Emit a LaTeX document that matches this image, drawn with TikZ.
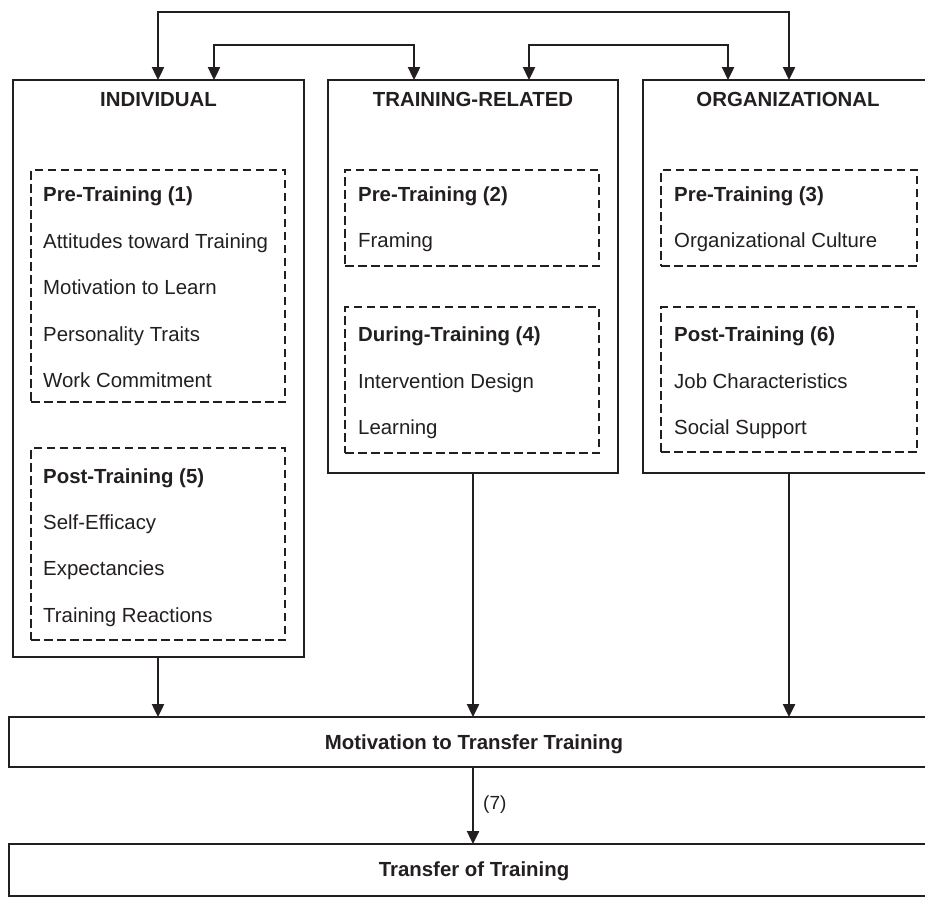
\documentclass[tikz,border=0pt]{standalone}
\usepackage{fontspec}
\setmainfont{Liberation Sans}
\usetikzlibrary{arrows.meta}
\definecolor{ink}{HTML}{231F20}
\begin{document}
\begin{tikzpicture}[x=1pt,y=-1pt,
 box/.style={draw=ink,line width=2pt,inner sep=0pt,outer sep=0pt,anchor=north west},
 dbox/.style={draw=ink,line width=2.5pt,dash pattern=on 8.5pt off 4.5pt,inner sep=0pt,outer sep=0pt,anchor=north west},
 hdr/.style={font=\fontsize{20.4}{24}\selectfont\bfseries,text=ink,anchor=base,inner sep=0pt},
 sub/.style={font=\fontsize{20.4}{24}\selectfont\bfseries,text=ink,anchor=base west,inner sep=0pt},
 item/.style={font=\fontsize{20.4}{24}\selectfont,text=ink,anchor=base west,inner sep=0pt},
 arr/.style={draw=ink,line width=2.4pt,-{Triangle[length=13pt,width=12pt]}},
 biarr/.style={draw=ink,line width=2.4pt,line join=miter,{Triangle[length=13pt,width=12pt]}-{Triangle[length=13pt,width=12pt]}}]
\clip (0,0) rectangle (925,921);
\fill[white] (0,0) rectangle (925,921);

% main boxes
\node[box,minimum width=291pt,minimum height=577pt] (ind) at (13,80) {};
\node[box,minimum width=290pt,minimum height=393pt] (tr) at (328,80) {};
\node[box,minimum width=290pt,minimum height=393pt] (org) at (643,80) {};
\node[box,minimum width=930pt,minimum height=50pt] (mot) at (9,717) {};
\node[box,minimum width=930pt,minimum height=52pt] (tra) at (9,844) {};

% dashed boxes
\node[dbox,minimum width=254pt,minimum height=232pt] (pre1) at (31,170) {};
\node[dbox,minimum width=254pt,minimum height=192pt] (post5) at (31,448) {};
\node[dbox,minimum width=254pt,minimum height=96pt] (pre2) at (345,170) {};
\node[dbox,minimum width=254pt,minimum height=146pt] (dur4) at (345,307) {};
\node[dbox,minimum width=256pt,minimum height=96pt] (pre3) at (661,170) {};
\node[dbox,minimum width=256pt,minimum height=145pt] (post6) at (661,307) {};

% headers
\node[hdr] (hInd) at (158.5,106) {INDIVIDUAL};
\node[hdr] (hTr) at (473,106) {TRAINING-RELATED};
\node[hdr] (hOrg) at (788,106) {ORGANIZATIONAL};

% individual
\node[sub] (s1) at (43,201) {Pre-Training (1)};
\node[item] (i11) at (43,248) {Attitudes toward Training};
\node[item] (i12) at (43,294) {Motivation to Learn};
\node[item] (i13) at (43,341) {Personality Traits};
\node[item] (i14) at (43,387) {Work Commitment};
\node[sub] (s5) at (43,483) {Post-Training (5)};
\node[item] (i51) at (43,529) {Self-Efficacy};
\node[item] (i52) at (43,575) {Expectancies};
\node[item] (i53) at (43,622) {Training Reactions};

% training-related
\node[sub] (s2) at (358,201) {Pre-Training (2)};
\node[item] (i21) at (358,247) {Framing};
\node[sub] (s4) at (358,341) {During-Training (4)};
\node[item] (i41) at (358,388) {Intervention Design};
\node[item] (i42) at (358,434) {Learning};

% organizational
\node[sub] (s3) at (674,201) {Pre-Training (3)};
\node[item] (i31) at (674,247) {Organizational Culture};
\node[sub] (s6) at (674,341) {Post-Training (6)};
\node[item] (i61) at (674,388) {Job Characteristics};
\node[item] (i62) at (674,434) {Social Support};

% bottom
\node[hdr] (tMot) at (474,749) {Motivation to Transfer Training};
\node[hdr] (tTra) at (474,876) {Transfer of Training};

% connectors
\coordinate (a1) at (158,12);
\coordinate (a2) at (789,12);
\coordinate (b1) at (214,45);
\coordinate (b2) at (414,45);
\coordinate (c1) at (529,45);
\coordinate (c2) at (728,45);
\draw[biarr] (ind.north -| a1) -- (a1) -- (a2) -- (org.north -| a2);
\draw[biarr] (ind.north -| b1) -- (b1) -- (b2) -- (tr.north -| b2);
\draw[biarr] (tr.north -| c1) -- (c1) -- (c2) -- (org.north -| c2);

\draw[arr] (ind.south -| a1) -- (mot.north -| a1);
\draw[arr] (tr.south) -- (mot.north -| tr.south);
\draw[arr] (org.south -| a2) -- (mot.north -| a2);
\draw[arr] (mot.south -| tr.south) -- (tra.north -| tr.south);
\node[font=\fontsize{19}{22}\selectfont,text=ink,anchor=base west,inner sep=0pt] (l7) at (483,809) {(7)};
\end{tikzpicture}
\end{document}
